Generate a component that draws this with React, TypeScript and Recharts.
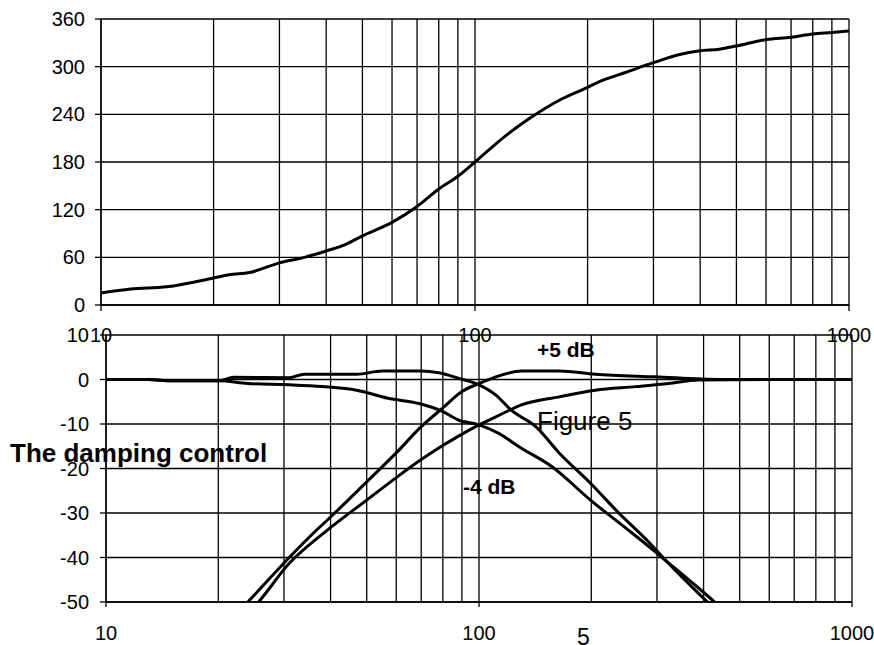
import React from "react";
import { LineChart, Line, XAxis, YAxis, CartesianGrid } from "recharts";

// grid / tick positions on the log frequency axis
const freqGrid = [10, 20, 30, 40, 50, 60, 70, 80, 90, 100, 200, 300, 400, 500, 600, 700, 800, 900, 1000];
const decadeLabels = [10, 100, 1000];
const phaseTicks = [0, 60, 120, 180, 240, 300, 360];
const dbTicks = [-50, -40, -30, -20, -10, 0, 10];

// top chart: phase (degrees)
const phaseFreq = [10, 12, 15, 20, 22, 25, 30, 35, 40, 45, 50, 60, 70, 80, 90, 100, 120, 140, 170, 200, 220, 250, 300, 350, 400, 450, 500, 600, 700, 800, 900, 1000];
const phaseDeg = [15, 20, 23, 34, 38, 41, 53, 60, 68, 76, 87, 104, 124, 146, 162, 180, 212, 235, 259, 274, 283, 292, 305, 315, 320, 322, 326, 334, 337, 341, 343, 345];

// bottom chart: level (dB)
const lowBoostFreq = [10, 13, 15, 20, 22, 31, 34, 47, 55, 70, 78, 88, 100, 111, 122, 142, 164, 199, 237, 285, 322, 387, 460];
const lowBoostDb = [0, 0, -0.3, -0.3, 0.5, 0.4, 1.2, 1.2, 1.9, 1.9, 1.5, 0.3, -1.2, -3.5, -6.9, -10.6, -16.5, -23.3, -30, -36.5, -41.3, -48, -54];

const lowCutFreq = [10, 13, 15, 20, 24, 31, 38, 47, 57, 69, 80, 88, 100, 113, 128, 157, 199, 252, 285, 322, 387, 470];
const lowCutDb = [0, 0, -0.3, -0.3, -0.9, -1.2, -1.6, -2.4, -4.2, -5.4, -7.2, -9.1, -10.2, -12.1, -15.1, -19.6, -27.1, -33.9, -37.5, -41.2, -46.8, -53];

const highBoostFreq = [21, 24, 31, 36, 40, 50, 60, 70, 80, 90, 100, 111, 130, 164, 205, 296, 445, 600, 1000];
const highBoostDb = [-55, -50, -40, -34.5, -30.9, -23, -16.5, -10.6, -6.4, -2.7, -0.9, 0.6, 1.9, 1.9, 1.2, 0.6, 0, 0, 0];

const highCutFreq = [22, 25, 31, 39, 50, 61, 70, 78, 87, 100, 111, 130, 164, 205, 263, 322, 387, 600, 1000];
const highCutDb = [-55, -51, -41.3, -34, -27.1, -21.6, -18, -15.4, -13, -10.2, -8.4, -5.7, -3.9, -2.4, -1.6, -0.9, -0.1, 0, 0];

const phaseData = phaseFreq.map((f, i) => ({ f, deg: phaseDeg[i] }));

const buildTable = (series: Array<[string, number[], number[]]>) => {
  const rows: Record<number, any> = {};
  series.forEach(([key, fs, vs]) => {
    fs.forEach((f, i) => {
      if (!rows[f]) rows[f] = { f };
      rows[f][key] = vs[i];
    });
  });
  return Object.values(rows).sort((a: any, b: any) => a.f - b.f);
};

const levelData = buildTable([
  ["lowBoost", lowBoostFreq, lowBoostDb],
  ["lowCut", lowCutFreq, lowCutDb],
  ["highBoost", highBoostFreq, highBoostDb],
  ["highCut", highCutFreq, highCutDb]
]);

const FONT = "'Liberation Sans', Arial, sans-serif";

const DecadeTick = (props: any) => {
  const { x, y, payload, len, dy } = props;
  if (!decadeLabels.includes(payload.value)) return <g />;
  return (
    <g>
      <line x1={x} y1={y} x2={x} y2={y + len} stroke="#000" strokeWidth={1.3} />
      <text x={x} y={y + dy} textAnchor="middle" fontSize={20} fontFamily={FONT} fill="#000">
        {payload.value}
      </text>
    </g>
  );
};

const lineProps = {
  type: "monotone" as const,
  stroke: "#000",
  strokeWidth: 3,
  dot: false,
  isAnimationActive: false,
  connectNulls: true
};

export default function App() {
  return (
    <div style={{ position: "absolute", left: 0, top: 0, width: 874, height: 645, background: "#fff", fontFamily: FONT }}>
      <div style={{ position: "absolute", left: 0, top: 0 }}>
        <LineChart width={874} height={345} data={phaseData} margin={{ top: 19, right: 25, bottom: 10, left: 41 }}>
          <CartesianGrid stroke="#000" strokeWidth={1.3} />
          <XAxis
            dataKey="f"
            type="number"
            scale="log"
            domain={[10, 1000]}
            ticks={freqGrid}
            interval={0}
            allowDataOverflow
            height={30}
            tickSize={0}
            tickMargin={0}
            tickLine={false}
            axisLine={{ stroke: "#000", strokeWidth: 1.3 }}
            tick={(p: any) => <DecadeTick {...p} len={6} dy={36.5} />}
          />
          <YAxis
            type="number"
            domain={[0, 360]}
            ticks={phaseTicks}
            interval={0}
            width={60}
            tickSize={6}
            tickMargin={10}
            axisLine={{ stroke: "#000", strokeWidth: 1.3 }}
            tickLine={{ stroke: "#000", strokeWidth: 1.3 }}
            tick={{ fill: "#000", fontSize: 20, fontFamily: FONT }}
          />
          <Line dataKey="deg" {...lineProps} />
        </LineChart>
      </div>
      <div style={{ position: "absolute", left: 0, top: 320 }}>
        <LineChart width={874} height={325} data={levelData} margin={{ top: 15, right: 22, bottom: 13, left: 46 }}>
          <CartesianGrid stroke="#000" strokeWidth={1.3} />
          <XAxis
            dataKey="f"
            type="number"
            scale="log"
            domain={[10, 1000]}
            ticks={freqGrid}
            interval={0}
            allowDataOverflow
            height={30}
            tickSize={0}
            tickMargin={0}
            tickLine={false}
            axisLine={{ stroke: "#000", strokeWidth: 1.3 }}
            tick={(p: any) => <DecadeTick {...p} len={5} dy={37.5} />}
          />
          <YAxis
            type="number"
            domain={[-50, 10]}
            ticks={dbTicks}
            interval={0}
            allowDataOverflow
            width={60}
            tickSize={6}
            tickMargin={11}
            axisLine={{ stroke: "#000", strokeWidth: 1.3 }}
            tickLine={{ stroke: "#000", strokeWidth: 1.3 }}
            tick={{ fill: "#000", fontSize: 20, fontFamily: FONT }}
          />
          <Line dataKey="lowBoost" {...lineProps} />
          <Line dataKey="lowCut" {...lineProps} />
          <Line dataKey="highBoost" {...lineProps} />
          <Line dataKey="highCut" {...lineProps} />
        </LineChart>
      </div>
      <svg width={874} height={645} style={{ position: "absolute", left: 0, top: 0, pointerEvents: "none" }}>
        <text x={10} y={462} fontSize={26} fontWeight="bold" fontFamily={FONT} fill="#000">
          The damping control
        </text>
        <text x={537} y={430} fontSize={26} fontFamily={FONT} fill="#000">
          Figure 5
        </text>
        <text x={537} y={357} fontSize={21} fontWeight="bold" fontFamily={FONT} fill="#000">
          +5 dB
        </text>
        <text x={463} y={493.5} fontSize={21} fontWeight="bold" fontFamily={FONT} fill="#000">
          -4 dB
        </text>
        <text x={583.5} y={645} fontSize={23} textAnchor="middle" fontFamily={FONT} fill="#000">
          5
        </text>
      </svg>
    </div>
  );
}
